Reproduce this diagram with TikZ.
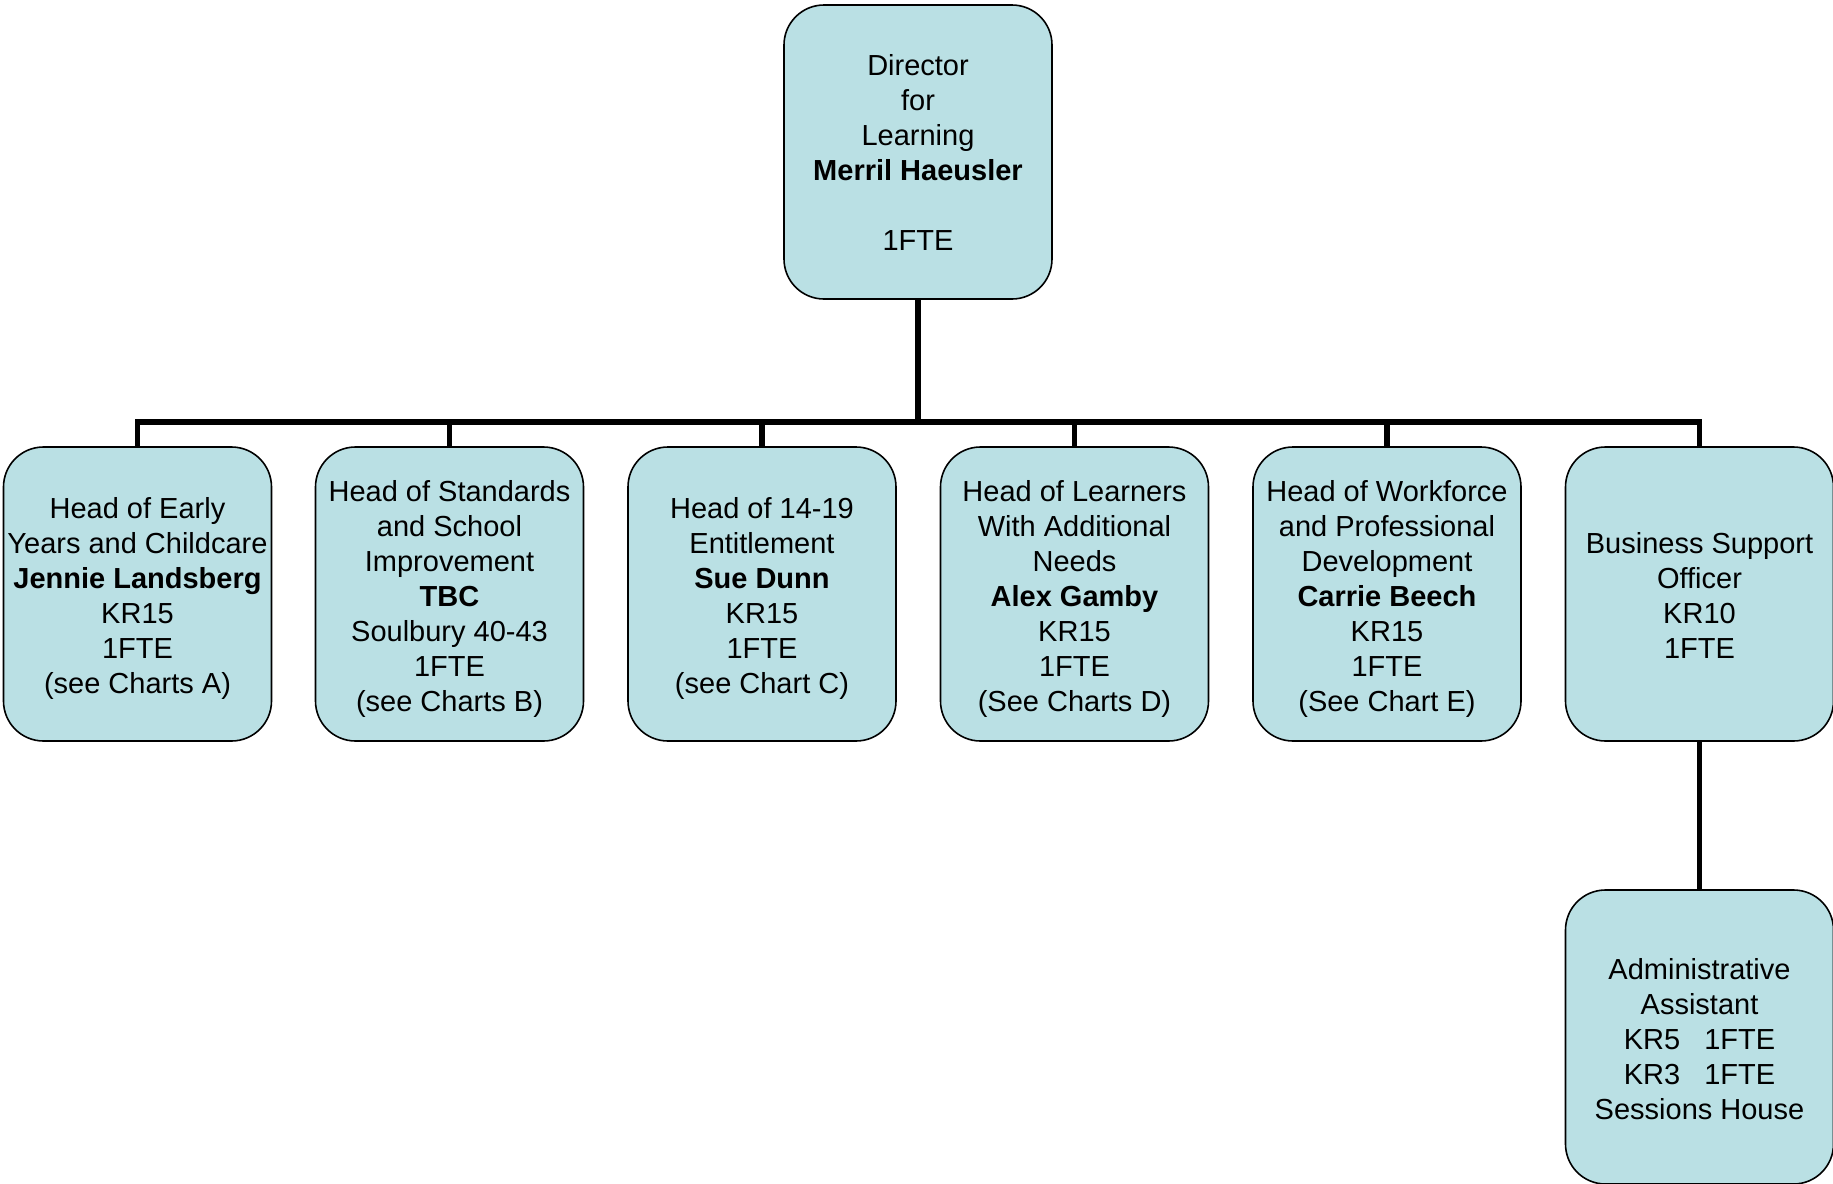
\documentclass[tikz,border=0pt]{standalone}
\usepackage{fontspec}
\setmainfont{Liberation Sans}
\definecolor{boxfill}{RGB}{186,224,228}
\begin{document}
\begin{tikzpicture}[x=0.5pt,y=-0.5pt,
  orgbox/.style={draw=black, line width=0.8pt, fill=boxfill, rounded corners=20pt,
    minimum width=134pt, minimum height=147pt, inner sep=0pt},
  boxtext/.style={inner sep=0pt, align=center,
    font=\fontsize{14.5pt}{17.5pt}\selectfont, text=black},
  conn/.style={line width=2.6pt, draw=black}]
\useasboundingbox (0,0) rectangle (1833,1184);
\node[orgbox] (dir) at (918,152) {};
\node[orgbox] (c1) at (137.5,594) {};
\node[orgbox] (c2) at (449.5,594) {};
\node[orgbox] (c3) at (762,594) {};
\node[orgbox] (c4) at (1074.5,594) {};
\node[orgbox] (c5) at (1387,594) {};
\node[orgbox] (c6) at (1699.5,594) {};
\node[orgbox] (adm) at (1699.5,1037) {};
\node[boxtext] (tdir) at (dir.center) {Director\\for\\Learning\\\textbf{Merril Haeusler}\\[17.5pt]1FTE};
\node[boxtext] (t1) at ([yshift=-2pt]c1.center) {Head of Early\\Years and Childcare\\\textbf{Jennie Landsberg}\\KR15\\1FTE\\(see Charts A)};
\node[boxtext] (t2) at ([yshift=-2.5pt]c2.center) {Head of Standards\\and School\\Improvement\\\textbf{TBC}\\Soulbury 40-43\\1FTE\\(see Charts B)};
\node[boxtext] (t3) at ([yshift=-2pt]c3.center) {Head of 14-19\\Entitlement\\\textbf{Sue Dunn}\\KR15\\1FTE\\(see Chart C)};
\node[boxtext] (t4) at ([yshift=-2.5pt]c4.center) {Head of Learners\\With Additional\\Needs\\\textbf{Alex Gamby}\\KR15\\1FTE\\(See Charts D)};
\node[boxtext] (t5) at ([yshift=-2.5pt]c5.center) {Head of Workforce\\and Professional\\Development\\\textbf{Carrie Beech}\\KR15\\1FTE\\(See Chart E)};
\node[boxtext] (t6) at ([yshift=-0.5pt]c6.center) {Business Support\\Officer\\KR10\\1FTE};
\node[boxtext] (tadm) at ([yshift=-1pt]adm.center) {Administrative\\Assistant\\KR5~~~1FTE\\KR3~~~1FTE\\Sessions House};
\coordinate (bar) at (918,422);
\foreach \c in {c1,c2,c3,c4,c5,c6}{
  \draw[conn] (dir.south) -- (bar) -| (\c.north);
}
\draw[conn] (c6.south) -- (adm.north);
\end{tikzpicture}
\end{document}
